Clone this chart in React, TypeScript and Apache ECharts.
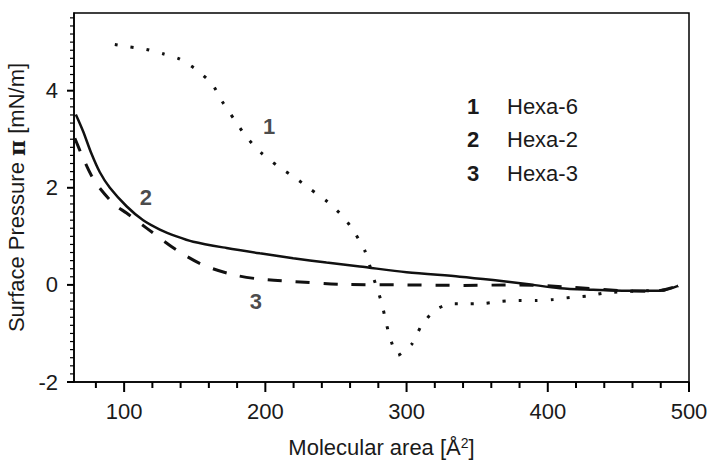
import React, { useEffect, useRef } from "react";
import * as echarts from "echarts";

// Hexa-6 (dotted)
const hexa6: [number, number][] = [
  [93.4, 4.95], [104, 4.9], [115.9, 4.85], [127.6, 4.76], [139.4, 4.65], [151.3, 4.43],
  [162.3, 4.14], [169.4, 3.78], [177.7, 3.42], [186.2, 3.06], [196.6, 2.73], [209.1, 2.44],
  [220.4, 2.22], [232, 1.97], [244.1, 1.71], [255.6, 1.39], [263.4, 1.07], [270.5, 0.7],
  [276.3, 0.17], [282.3, -0.36], [285.1, -0.72], [288.2, -1.08], [293.8, -1.45],
  [303.7, -1.22], [310.1, -0.86], [319.5, -0.53], [331.2, -0.39], [343.6, -0.39],
  [355.5, -0.38], [367.3, -0.34], [379.5, -0.32], [391.6, -0.32], [403.8, -0.3],
  [415.6, -0.26], [427.9, -0.23], [439.7, -0.17], [452.3, -0.14], [470, -0.12],
  [485, -0.1], [492.3, -0.02],
];
// Hexa-2 (solid)
const hexa2: [number, number][] = [
  [65.8, 3.51], [71, 3.16], [76.9, 2.7], [82.8, 2.32], [89.9, 2.0], [101.7, 1.62],
  [113.5, 1.33], [125.3, 1.14], [137.1, 1.0], [148.9, 0.89], [172.5, 0.76], [196.1, 0.65],
  [219.7, 0.55], [243.3, 0.46], [266.9, 0.38], [300, 0.26], [337.7, 0.17], [361.3, 0.1],
  [385, 0.02], [408.6, -0.07], [432.2, -0.1], [455.8, -0.12], [479.4, -0.12], [492.3, -0.02],
];
// Hexa-3 (dashed)
const hexa3: [number, number][] = [
  [65.1, 3.02], [71, 2.61], [76.9, 2.25], [82.8, 1.99], [93.4, 1.65], [101.7, 1.48],
  [115.9, 1.17], [137.1, 0.72], [156, 0.41], [177.2, 0.21], [196.1, 0.12], [219.7, 0.07],
  [255.1, 0.01], [300, 0.0], [340, -0.01], [379, 0.0], [418, -0.05], [453, -0.12],
  [475, -0.13], [492.3, -0.02],
];

const curveLabels = [
  { name: "1", value: [202.7, 3.26] },
  { name: "2", value: [115.4, 1.79] },
  { name: "3", value: [193.3, -0.34] },
];

const legendNums = ["1", "2", "3"];
const legendNames = ["Hexa-6", "Hexa-2", "Hexa-3"];

const xMajor = [100, 200, 300, 400, 500];
const xMinor = [80, 120, 140, 160, 180, 220, 240, 260, 280, 320, 340, 360, 380, 420, 440, 460, 480];
const yMajor = [-2, 0, 2, 4];
const yMinorStep = 1 / 6;

const FONT = "'Liberation Sans', Arial, sans-serif";
const INK = "#1a1a1a";

export default function App() {
  const ref = useRef<HTMLDivElement>(null);
  useEffect(() => {
    if (!ref.current) return;
    const chart = echarts.init(ref.current, undefined, { renderer: "svg" });
    const yMinor: number[] = [];
    for (let i = 0; i <= 45; i++) {
      const v = -2 + i * yMinorStep;
      if (v < 5.6 && !yMajor.some((m) => Math.abs(m - v) < 1e-6)) yMinor.push(Math.round(v * 1000) / 1000);
    }
    const xMin = 64.5, xMax = 500, yMin = -2, yMax = 5.6;
    const legendGraphics: any[] = [];
    legendNums.forEach((n, i) => {
      legendGraphics.push({
        type: "text", x: 467, y: 106 + i * 33.5,
        style: { text: n, fontSize: 22, fontWeight: "bold", fontFamily: FONT, fill: INK, verticalAlign: "middle" },
      });
      legendGraphics.push({
        type: "text", x: 507, y: 106 + i * 33.5,
        style: { text: legendNames[i], fontSize: 22, fontFamily: FONT, fill: INK, verticalAlign: "middle" },
      });
    });

    // tick marks drawn through the axes' own scales: [x, y, 0, length]
    const xTickData: [number, number, number, number][] = [];
    xMajor.forEach((v) => xTickData.push([v, yMin, 0, 10]));
    xMinor.forEach((v) => xTickData.push([v, yMin, 0, 6]));
    const yTickData: [number, number, number, number][] = [];
    yMajor.forEach((v) => yTickData.push([xMin, v, 0, 7]));
    yMinor.forEach((v) => yTickData.push([xMin, v, 0, 4]));

    chart.setOption({
      animation: false,
      backgroundColor: "#fff",
      textStyle: { fontFamily: FONT },
      grid: {
        left: 74, right: 21, top: 13, bottom: 79, show: true, borderColor: "#000", borderWidth: 1.5,
        backgroundColor: "transparent", containLabel: false, outerBoundsMode: "none",
      },
      xAxis: {
        type: "value", min: xMin, max: xMax, position: "bottom",
        axisLine: { onZero: false, lineStyle: { color: "#000", width: 1.5 } },
        axisTick: { show: false },
        axisLabel: { customValues: xMajor, fontSize: 22, color: INK, margin: 18, fontFamily: FONT },
        splitLine: { show: false },
        name: "{a|Molecular area [Å}{s|2}{a|]}",
        nameLocation: "middle", nameGap: 54,
        nameTextStyle: {
          rich: {
            a: { fontSize: 22, color: INK, fontFamily: FONT },
            s: { fontSize: 14, color: INK, fontFamily: FONT, verticalAlign: "top", padding: [0, 0, 8, 0] },
          },
        },
      },
      yAxis: {
        type: "value", min: yMin, max: yMax, position: "left",
        axisLine: { show: true, onZero: false, lineStyle: { color: "#000", width: 1.5 } },
        axisTick: { show: false },
        axisLabel: { customValues: yMajor, fontSize: 22, color: INK, margin: 16, fontFamily: FONT },
        splitLine: { show: false },
        name: "{a|Surface Pressure }{b|π}{a| [mN/m]}",
        nameLocation: "middle", nameGap: 42, nameRotate: 90,
        nameTextStyle: {
          rich: {
            a: { fontSize: 22, color: INK, fontFamily: FONT },
            b: { fontSize: 22, color: INK, fontWeight: "bold", fontFamily: "'DejaVu Serif', serif" },
          },
        },
      },
      series: [
        {
          type: "custom", clip: false, data: xTickData,
          renderItem: (_params: any, api: any) => {
            const p = api.coord([api.value(0), api.value(1)]);
            return { type: "line", shape: { x1: p[0], y1: p[1], x2: p[0], y2: p[1] + api.value(3) }, style: { stroke: "#000", lineWidth: 2 } };
          },
        },
        {
          type: "custom", clip: false, data: yTickData,
          renderItem: (_params: any, api: any) => {
            const p = api.coord([api.value(0), api.value(1)]);
            const len = api.value(3);
            return { type: "line", shape: { x1: p[0], y1: p[1], x2: p[0] - len, y2: p[1] }, style: { stroke: "#000", lineWidth: len >= 7 ? 2 : 1.2 } };
          },
        },
        {
          name: "Hexa-6", type: "line", data: hexa6, showSymbol: false, smooth: 0.2,
          lineStyle: { color: "#111", width: 3, type: [3, 13], cap: "butt" },
        },
        {
          name: "Hexa-2", type: "line", data: hexa2, showSymbol: false, smooth: 0.3,
          lineStyle: { color: "#111", width: 2.5 },
        },
        {
          name: "Hexa-3", type: "line", data: hexa3, showSymbol: false, smooth: 0.3,
          lineStyle: { color: "#111", width: 3, type: [14, 14] },
        },
        {
          type: "scatter", data: curveLabels, symbolSize: 0, silent: true,
          label: { show: true, position: "inside", formatter: "{b}", fontSize: 22, fontWeight: "bold", color: INK, fontFamily: FONT },
        },
      ],
      graphic: legendGraphics,
    });
    return () => chart.dispose();
  }, []);
  return <div ref={ref} style={{ position: "fixed", left: 0, top: 0, width: 710, height: 461 }} />;
}
